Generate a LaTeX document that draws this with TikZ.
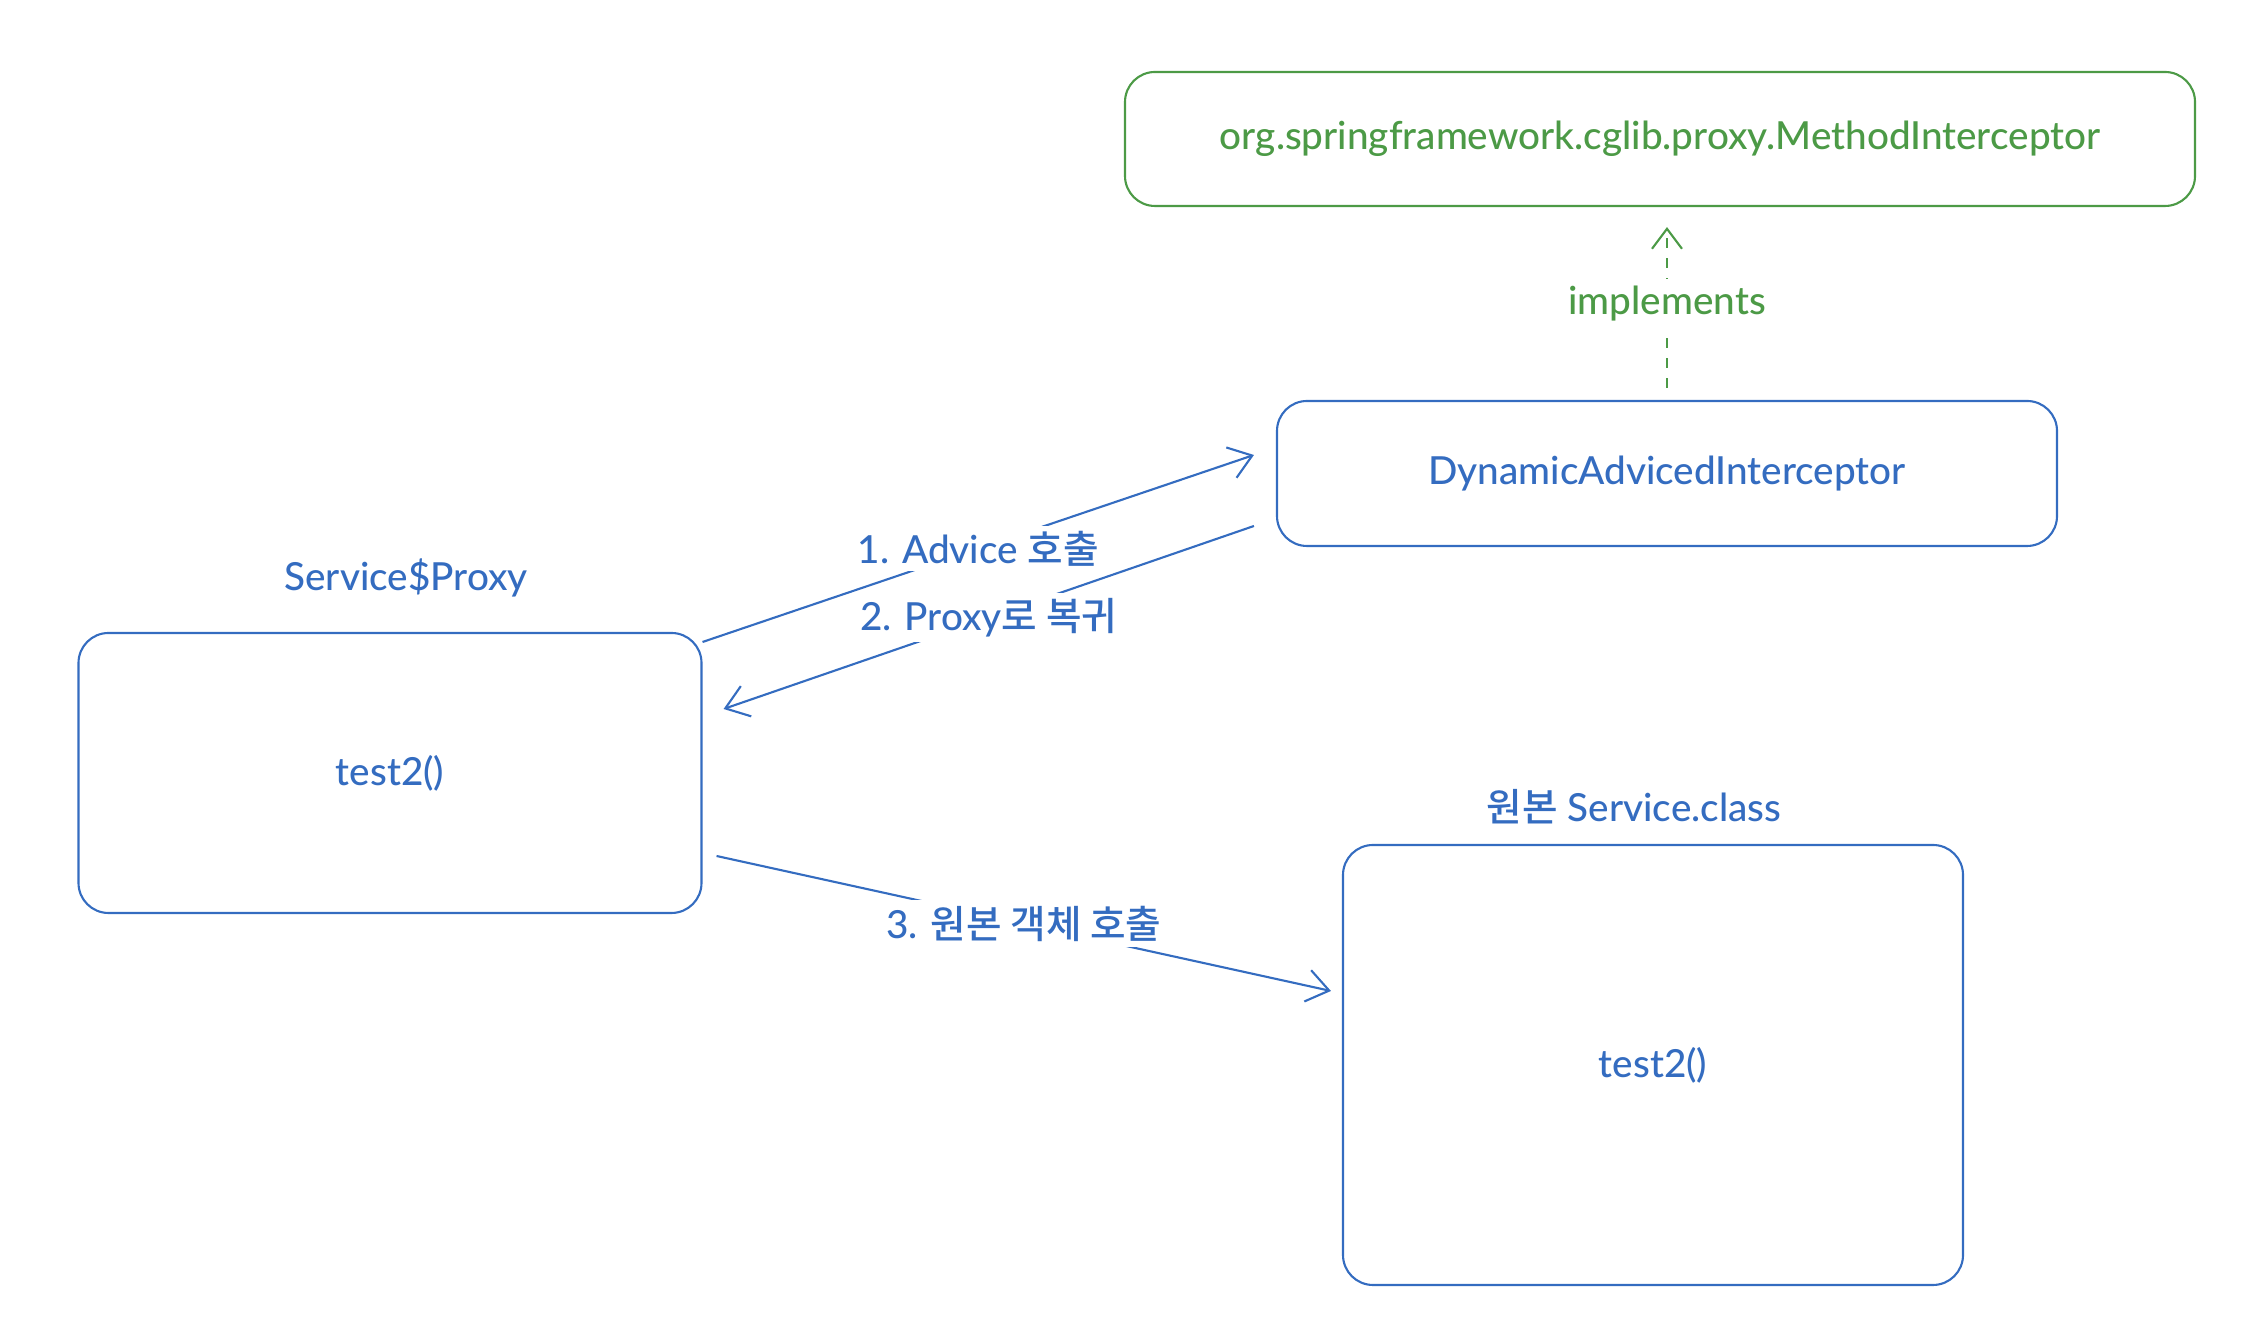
\documentclass[tikz,border=0pt]{standalone}
\usepackage{fontspec}
\setmainfont{Lato}[UprightFont=* Medium]
\newfontfamily\kr{Noto Sans CJK KR Medium}
\usetikzlibrary{arrows.meta}
\definecolor{callblue}{RGB}{52,108,192}
\definecolor{implgreen}{RGB}{76,154,70}

\begin{document}
\begin{tikzpicture}[line width=.6pt,font=\fontsize{11pt}{13pt}\selectfont,
    box/.style={draw=callblue,text=callblue,rounded corners=3mm},
    call/.style={draw=callblue,-{Straight Barb[length=2.2mm,width=3.2mm]}},
    lbl/.style={text=callblue,fill=white,inner sep=1.5pt}]
   \useasboundingbox (0,0) rectangle (22.6,13.4);
   \node[box,draw=implgreen,text=implgreen,minimum width=10.7cm,minimum height=1.34cm] (iface) at (16.6,12.01) {org.springframework.cglib.proxy.MethodInterceptor};
   \node[box,minimum width=7.8cm,minimum height=1.45cm] (dai) at (16.67,8.665) {DynamicAdvicedInterceptor};
   \node[box,minimum width=6.23cm,minimum height=2.8cm] (proxy) at (3.9,5.67) {test2()};
   \node[text=callblue] (proxyname) at (4.06,7.62) {Service\$Proxy};
   \node[box,minimum width=6.2cm,minimum height=4.4cm] (orig) at (16.53,2.75) {test2()};
   \node[text=callblue] (origname) at (16.34,5.33) {{\kr 원본} Service.class};
   \draw[implgreen,dash pattern=on 1mm off 1mm,-{Straight Barb[length=2mm,width=3mm]},shorten <=1.2mm,shorten >=2mm]
     (dai.north) -- (dai.north |- iface.south) node[midway,fill=white,text=implgreen,inner sep=2pt] {implements};
   \draw[call] ([yshift=1.31cm]proxy.east) -- ([xshift=-.22cm,yshift=.185cm]dai.west) node[lbl,midway] {1. Advice {\kr 호출}};
   \draw[call] ([xshift=-.22cm,yshift=-.525cm]dai.west) -- ([xshift=.21cm,yshift=.64cm]proxy.east) node[lbl,midway] {2. Proxy{\kr 로 복귀}};
   \draw[call] ([xshift=.14cm,yshift=-.83cm]proxy.east) -- ([xshift=-.11cm,yshift=.74cm]orig.west) node[lbl,midway] {3. {\kr 원본 객체 호출}};
\end{tikzpicture}
\end{document}
